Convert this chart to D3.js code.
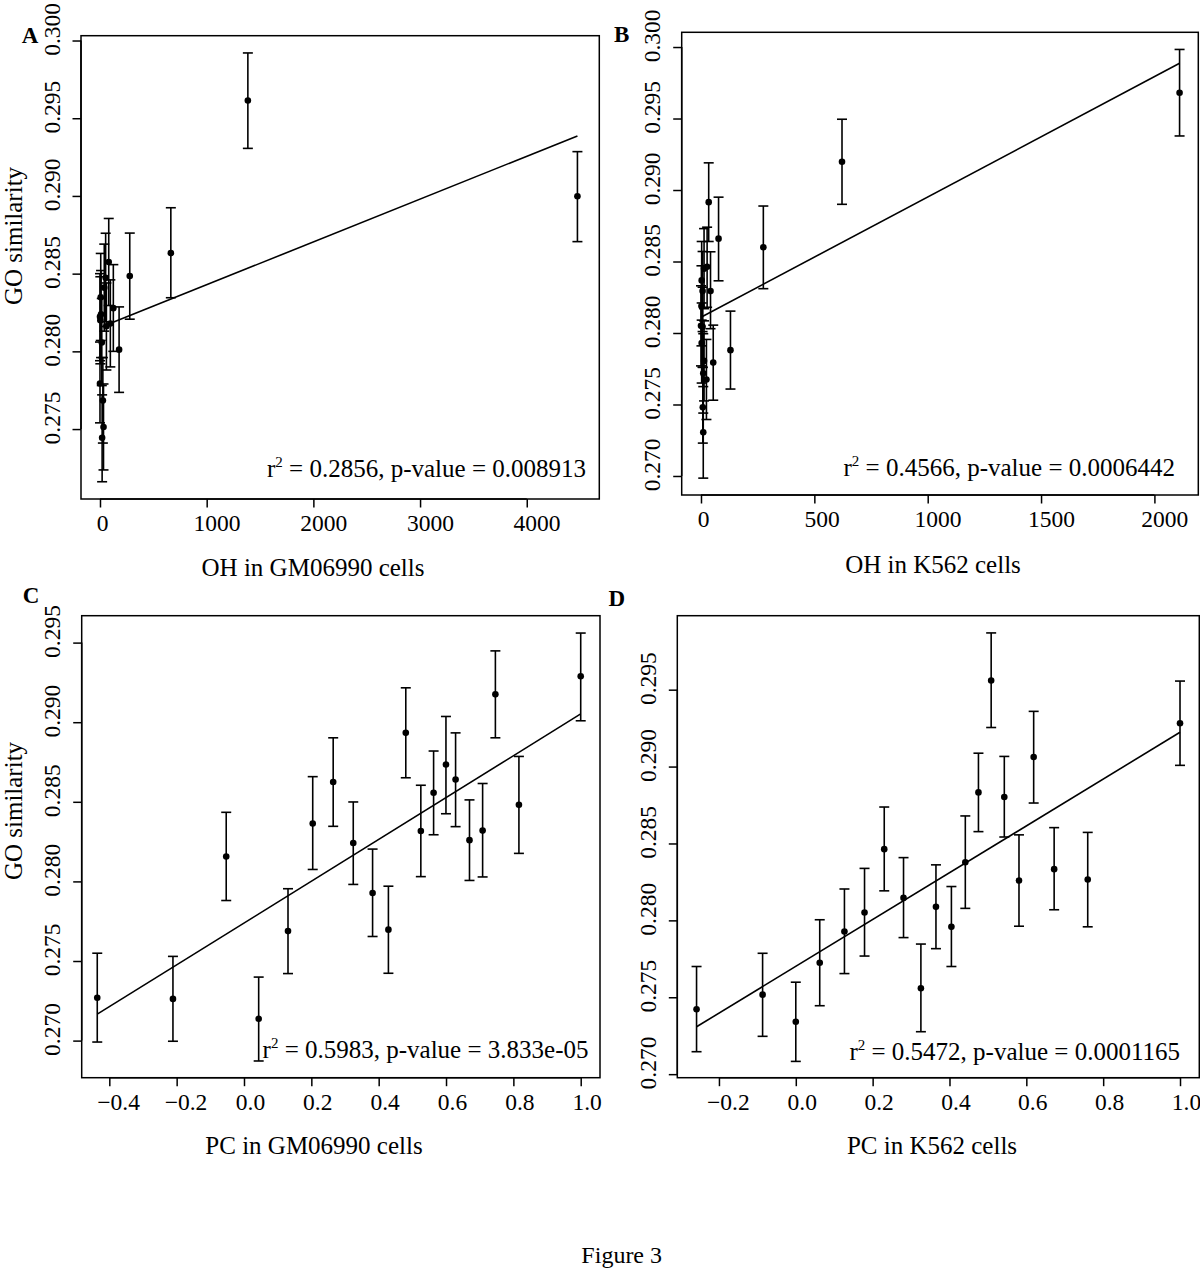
<!DOCTYPE html>
<html>
<head>
<meta charset="utf-8">
<script src="https://cdn.jsdelivr.net/npm/d3@7"></script>
<style>
  html, body { margin: 0; padding: 0; background: #fff; }
  svg { display: block; }
</style>
</head>
<body>
<svg id="fig" width="1200" height="1271"></svg>
<script>
// ---------------- DATA ----------------
// Panel A: OH in GM06990 cells vs GO similarity
const aX  = [1386, 4475, 664, 279, 179, 125, 82, 53, 97, 60, 7, 0, 3, 10, 17, 0, 27, 33, 20, 40];
const aY  = [0.29614, 0.28998, 0.28632, 0.28485, 0.28011, 0.28278, 0.28575, 0.28474, 0.28179, 0.28162,
             0.28348, 0.28222, 0.28200, 0.28239, 0.28057, 0.27793, 0.27684, 0.27513, 0.27444, 0.28410];
const aLo = [0.29306, 0.28706, 0.28345, 0.28207, 0.27736, 0.28000, 0.28295, 0.28190, 0.27900, 0.27880,
             0.28070, 0.27940, 0.27920, 0.27960, 0.27780, 0.27540, 0.27410, 0.27237, 0.27161, 0.28130];
const aHi = [0.29920, 0.29285, 0.28924, 0.28761, 0.28286, 0.28558, 0.28855, 0.28760, 0.28460, 0.28440,
             0.28630, 0.28500, 0.28480, 0.28520, 0.28340, 0.28060, 0.27960, 0.27790, 0.27720, 0.28690];
const aFitX = [0, 4475];
const aFitY = [0.28153, 0.29386];

// Panel B: OH in K562 cells vs GO similarity
const bX  = [2111, 622, 275, 130, 77.5, 34, 54, 42, 27, 13.5, 3, 7, 2, 0, 7, 3, 13.5, 10, 24, 8, 10];
const bY  = [0.29680, 0.29198, 0.28600, 0.27880, 0.28660, 0.28915, 0.27793, 0.28293, 0.28463, 0.28450,
             0.28368, 0.28293, 0.28188, 0.28050, 0.28043, 0.27930, 0.27805, 0.27718, 0.27675, 0.27480, 0.27305];
const bLo = [0.29378, 0.28900, 0.28310, 0.27608, 0.28365, 0.28640, 0.27530, 0.28030, 0.28180, 0.28170,
             0.28090, 0.28010, 0.27910, 0.27770, 0.27760, 0.27650, 0.27525, 0.27440, 0.27395, 0.27230, 0.26985];
const bHi = [0.29983, 0.29495, 0.28888, 0.28153, 0.28950, 0.29190, 0.28055, 0.28568, 0.28740, 0.28730,
             0.28640, 0.28570, 0.28470, 0.28330, 0.28320, 0.28210, 0.28085, 0.27995, 0.27955, 0.27760, 0.27625];
const bFitX = [0, 2111];
const bFitY = [0.28110, 0.29886];

// Panel C: PC in GM06990 cells vs GO similarity
const cX  = [-0.4358, -0.211, -0.0528, 0.0436, 0.1307, 0.2041, 0.2649, 0.3245, 0.3819, 0.4289,
             0.4805, 0.5252, 0.5631, 0.5998, 0.6284, 0.6697, 0.7087, 0.7466, 0.8165, 1.0];
const cY  = [0.27269, 0.27262, 0.28156, 0.27137, 0.27688, 0.28364, 0.28624, 0.28241, 0.27927, 0.27697,
             0.28933, 0.28317, 0.28557, 0.28734, 0.28640, 0.28259, 0.28319, 0.29175, 0.28481, 0.29289];
const cLo = [0.26991, 0.26996, 0.27880, 0.26872, 0.27421, 0.28075, 0.28346, 0.27981, 0.27654, 0.27423,
             0.28651, 0.28030, 0.28293, 0.28425, 0.28344, 0.28006, 0.28028, 0.28902, 0.28176, 0.29009];
const cHi = [0.27549, 0.27529, 0.28434, 0.27399, 0.27954, 0.28658, 0.28902, 0.28499, 0.28203, 0.27970,
             0.29216, 0.28604, 0.28819, 0.29036, 0.28933, 0.28512, 0.28615, 0.29448, 0.28785, 0.29560];
const cFitX = [-0.4358, 1.0];
const cFitY = [0.27166, 0.29052];

// Panel D: PC in K562 cells vs GO similarity
const dX  = [-0.2583, -0.0864, 0.0, 0.0623, 0.1266, 0.1789, 0.2302, 0.2804, 0.3256, 0.3648,
             0.4050, 0.4412, 0.4754, 0.5085, 0.5427, 0.5809, 0.6191, 0.6724, 0.7598, 1.0];
const dY  = [0.27422, 0.27517, 0.27341, 0.27724, 0.27928, 0.28051, 0.28463, 0.28146, 0.27559, 0.28088,
             0.27958, 0.28378, 0.28832, 0.29560, 0.28802, 0.28259, 0.29062, 0.28333, 0.28266, 0.29282];
const dLo = [0.27146, 0.27246, 0.27083, 0.27445, 0.27654, 0.27768, 0.28192, 0.27888, 0.27276, 0.27816,
             0.27700, 0.28078, 0.28577, 0.29254, 0.28542, 0.27962, 0.28763, 0.28069, 0.27958, 0.29008];
const dHi = [0.27700, 0.27786, 0.27598, 0.28004, 0.28204, 0.28338, 0.28737, 0.28408, 0.27846, 0.28361,
             0.28220, 0.28679, 0.29087, 0.29869, 0.29066, 0.28556, 0.29359, 0.28603, 0.28572, 0.29556];
const dFitX = [-0.2583, 1.0];
const dFitY = [0.27308, 0.29223];

// Axis ranges and ticks
const aXRange = [-178, 4680],   aYRange = [0.27050, 0.30031];
const bXRange = [-85.1, 2193.6], bYRange = [0.26867, 0.30103];
const cXRange = [-0.482, 1.0573], cYRange = [0.26767, 0.29669];
const dXRange = [-0.3084, 1.0502], dYRange = [0.26977, 0.29981];

const aXTicks = [0, 1000, 2000, 3000, 4000];
const bXTicks = [0, 500, 1000, 1500, 2000];
const cXTicks = [-0.4, -0.2, 0.0, 0.2, 0.4, 0.6, 0.8, 1.0];
const dXTicks = [-0.2, 0.0, 0.2, 0.4, 0.6, 0.8, 1.0];
const aYTicks = [0.275, 0.280, 0.285, 0.290, 0.295, 0.300];
const bYTicks = [0.270, 0.275, 0.280, 0.285, 0.290, 0.295, 0.300];
const cYTicks = [0.270, 0.275, 0.280, 0.285, 0.290, 0.295];
const dYTicks = [0.270, 0.275, 0.280, 0.285, 0.290, 0.295];

const panelLabels = ["A", "B", "C", "D"];
const xTitles = ["OH in GM06990 cells", "OH in K562 cells", "PC in GM06990 cells", "PC in K562 cells"];
const yTitle = "GO similarity";
const statR2 = ["0.2856", "0.4566", "0.5983", "0.5472"];
const statP  = ["0.008913", "0.0006442", "3.833e-05", "0.0001165"];
const caption = "Figure 3";

// ---------------- LAYOUT ----------------
const FONT = "'Liberation Serif', 'Times New Roman', Times, serif";
const panels = [
  { x: aX, y: aY, lo: aLo, hi: aHi, fx: aFitX, fy: aFitY, xr: aXRange, yr: aYRange, xt: aXTicks, yt: aYTicks,
    xfmt: d3.format("d"), box: {l: 81, r: 599.3, t: 35.7, b: 499},
    lab: [21.7, 43.3], xTitle: [313, 576], yTitleC: 236, stat: [586, 477] },
  { x: bX, y: bY, lo: bLo, hi: bHi, fx: bFitX, fy: bFitY, xr: bXRange, yr: bYRange, xt: bXTicks, yt: bYTicks,
    xfmt: d3.format("d"), box: {l: 681.7, r: 1198.3, t: 32.3, b: 495},
    lab: [614, 41.7], xTitle: [933, 572.5], yTitleC: null, stat: [1175, 476] },
  { x: cX, y: cY, lo: cLo, hi: cHi, fx: cFitX, fy: cFitY, xr: cXRange, yr: cYRange, xt: cXTicks, yt: cYTicks,
    xfmt: d3.format(".1f"), box: {l: 81.7, r: 600, t: 615.7, b: 1077.7},
    lab: [22.7, 602.7], xTitle: [314, 1154], yTitleC: 811, stat: [588.5, 1057.5] },
  { x: dX, y: dY, lo: dLo, hi: dHi, fx: dFitX, fy: dFitY, xr: dXRange, yr: dYRange, xt: dXTicks, yt: dYTicks,
    xfmt: d3.format(".1f"), box: {l: 677.3, r: 1199.3, t: 615.7, b: 1077.7},
    lab: [608.6, 606], xTitle: [932, 1154], yTitleC: null, stat: [1180, 1060] }
];

const svg = d3.select("#fig");
svg.append("rect").attr("width", 1200).attr("height", 1271).attr("fill", "#fff");

const TICK_FS = 23.5, TITLE_FS = 25, STAT_FS = 25, TICKLEN = 8.5;

panels.forEach((p, i) => {
  const g = svg.append("g");
  const xs = d3.scaleLinear().domain(p.xr).range([p.box.l, p.box.r]);
  const ys = d3.scaleLinear().domain(p.yr).range([p.box.b, p.box.t]);

  // box
  g.append("rect").attr("x", p.box.l).attr("y", p.box.t)
    .attr("width", p.box.r - p.box.l).attr("height", p.box.b - p.box.t)
    .attr("fill", "none").attr("stroke", "#000").attr("stroke-width", 1.5);

  // x axis (ticks via d3 axis, labels drawn separately)
  const xAxis = d3.axisBottom(xs).tickValues(p.xt).tickSize(TICKLEN).tickFormat("");
  const xg = g.append("g").attr("transform", `translate(0,${p.box.b})`).call(xAxis);
  xg.select(".domain").attr("d", `M${xs(p.xt[0])},0H${xs(p.xt[p.xt.length-1])}`).attr("stroke-width", 1.5);
  xg.selectAll(".tick line").attr("stroke-width", 1.5);
  p.xt.forEach(v => {
    const t = g.append("text").attr("y", p.box.b + 32)
      .attr("font-family", FONT).attr("font-size", TICK_FS).attr("text-anchor", "middle")
      .attr("fill", "#000").text(p.xfmt(v).replace("-", "\u2212"));
    const L = t.node().getComputedTextLength();
    t.attr("x", xs(v) + 0.22 * L);
  });

  // y axis
  const yAxis = d3.axisLeft(ys).tickValues(p.yt).tickSize(TICKLEN).tickFormat("");
  const yg = g.append("g").attr("transform", `translate(${p.box.l},0)`).call(yAxis);
  yg.select(".domain").attr("d", `M0,${ys(p.yt[0])}V${ys(p.yt[p.yt.length-1])}`).attr("stroke-width", 1.5);
  yg.selectAll(".tick line").attr("stroke-width", 1.5);
  p.yt.forEach(v => {
    const t = g.append("text")
      .attr("transform", `translate(${p.box.l - 21.5},${ys(v)}) rotate(-90)`)
      .attr("font-family", FONT).attr("font-size", TICK_FS).attr("text-anchor", "middle")
      .attr("fill", "#000").text(d3.format(".3f")(v));
    const L = t.node().getComputedTextLength();
    t.attr("x", 0.21 * L);
  });

  // regression line
  g.append("path")
    .datum(p.fx.map((v, k) => [v, p.fy[k]]))
    .attr("d", d3.line().x(d => xs(d[0])).y(d => ys(d[1])))
    .attr("fill", "none").attr("stroke", "#000").attr("stroke-width", 1.6);

  // error bars
  const idx = d3.range(p.x.length);
  const eb = g.append("g").attr("stroke", "#000").attr("stroke-width", 1.6);
  eb.selectAll("line.v").data(idx).join("line").attr("class", "v")
    .attr("x1", k => xs(p.x[k])).attr("x2", k => xs(p.x[k]))
    .attr("y1", k => ys(p.lo[k])).attr("y2", k => ys(p.hi[k]));
  eb.selectAll("line.ct").data(idx).join("line").attr("class", "ct")
    .attr("x1", k => xs(p.x[k]) - 5).attr("x2", k => xs(p.x[k]) + 5)
    .attr("y1", k => ys(p.hi[k])).attr("y2", k => ys(p.hi[k]));
  eb.selectAll("line.cb").data(idx).join("line").attr("class", "cb")
    .attr("x1", k => xs(p.x[k]) - 5).attr("x2", k => xs(p.x[k]) + 5)
    .attr("y1", k => ys(p.lo[k])).attr("y2", k => ys(p.lo[k]));

  // points
  g.selectAll("circle").data(idx).join("circle")
    .attr("cx", k => xs(p.x[k])).attr("cy", k => ys(p.y[k])).attr("r", 3.3).attr("fill", "#000");

  // stat text
  const st = g.append("text").attr("x", p.stat[0]).attr("y", p.stat[1])
    .attr("font-family", FONT).attr("font-size", STAT_FS).attr("text-anchor", "end").attr("fill", "#000");
  st.append("tspan").text("r");
  st.append("tspan").attr("font-size", 15).attr("dy", -10).text("2");
  st.append("tspan").attr("dy", 10).text(` = ${statR2[i]}, p-value = ${statP[i]}`);

  // panel label
  g.append("text").attr("x", p.lab[0]).attr("y", p.lab[1])
    .attr("font-family", FONT).attr("font-size", 23).attr("font-weight", "bold").attr("fill", "#000")
    .text(panelLabels[i]);

  // x title
  g.append("text").attr("x", p.xTitle[0]).attr("y", p.xTitle[1])
    .attr("font-family", FONT).attr("font-size", TITLE_FS).attr("text-anchor", "middle").attr("fill", "#000")
    .text(xTitles[i]);

  // y title
  if (p.yTitleC !== null) {
    g.append("text").attr("transform", `translate(22,${p.yTitleC}) rotate(-90)`)
      .attr("font-family", FONT).attr("font-size", TITLE_FS).attr("text-anchor", "middle").attr("fill", "#000")
      .text(yTitle);
  }
});

svg.append("text").attr("x", 621.7).attr("y", 1262.5)
  .attr("font-family", FONT).attr("font-size", 24).attr("text-anchor", "middle").attr("fill", "#000")
  .text(caption);
</script>
</body>
</html>
